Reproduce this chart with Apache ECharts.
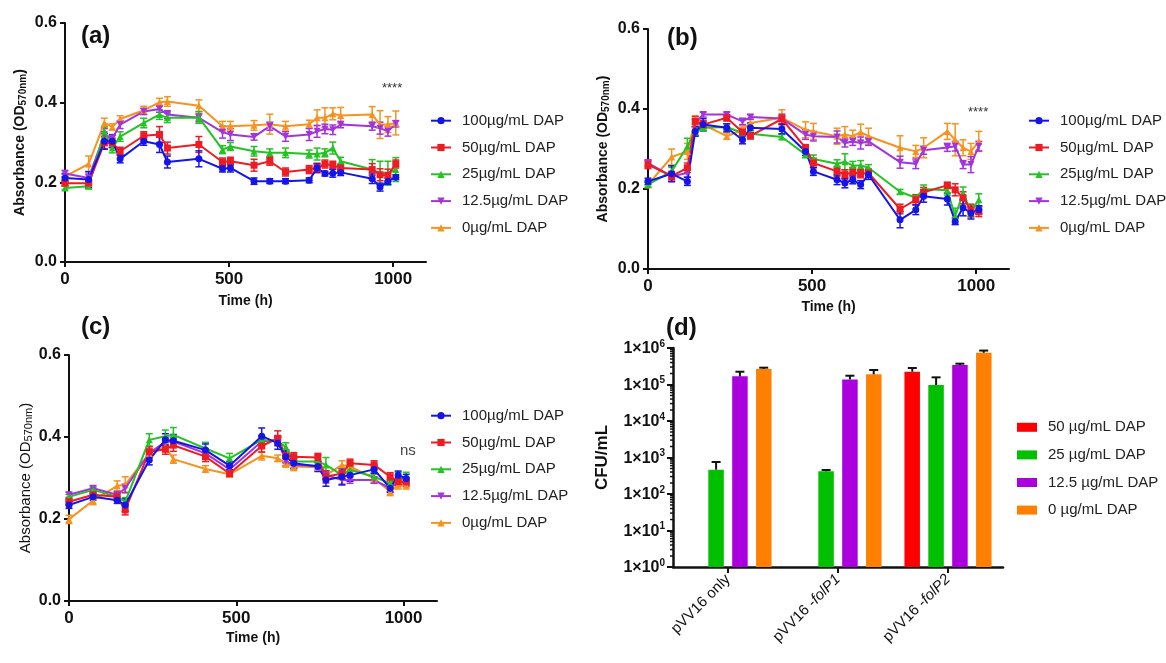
<!DOCTYPE html>
<html><head><meta charset="utf-8">
<script src="https://cdn.jsdelivr.net/npm/echarts@6/dist/echarts.min.js"></script>
<style>html,body{margin:0;padding:0;background:#fff}#c{width:1166px;height:663px}</style>
</head><body><div id="c"></div>
<script>
// ---------- DATA ----------
const seriesNames = ['100µg/mL DAP','50µg/mL DAP','25µg/mL DAP','12.5µg/mL DAP','0µg/mL DAP'];
const xTicks = [0, 500, 1000];
const yTicks = [0, 0.2, 0.4, 0.6];

// Panel (a)
const timesA = [0,72,120,144,168,240,288,312,408,480,504,576,624,672,744,768,792,816,840,936,960,984,1008];
const a100 = [0.211,0.207,0.303,0.303,0.259,0.303,0.295,0.251,0.259,0.234,0.236,0.203,0.203,0.203,0.205,0.236,0.222,0.223,0.225,0.209,0.188,0.203,0.213];
const a50  = [0.198,0.198,0.299,0.299,0.278,0.317,0.320,0.286,0.295,0.251,0.253,0.243,0.253,0.226,0.232,0.236,0.246,0.243,0.236,0.232,0.219,0.218,0.246];
const a25  = [0.186,0.190,0.328,0.286,0.315,0.349,0.370,0.362,0.363,0.282,0.290,0.278,0.274,0.274,0.271,0.271,0.274,0.286,0.253,0.232,0.223,0.223,0.232];
const a12  = [0.222,0.211,0.320,0.310,0.345,0.378,0.384,0.370,0.362,0.326,0.320,0.314,0.341,0.315,0.320,0.328,0.334,0.332,0.345,0.341,0.336,0.328,0.347];
const a0   = [0.215,0.246,0.349,0.339,0.359,0.381,0.401,0.403,0.392,0.341,0.341,0.343,0.346,0.341,0.346,0.362,0.362,0.372,0.368,0.370,0.345,0.345,0.349];
const a100e = [0.010,0.020,0.020,0.015,0.010,0.010,0.020,0.015,0.020,0.008,0.010,0.008,0.006,0.006,0.006,0.010,0.006,0.010,0.008,0.012,0.010,0.008,0.006];
const a50e  = [0.006,0.006,0.015,0.012,0.010,0.010,0.020,0.015,0.020,0.010,0.010,0.015,0.010,0.010,0.010,0.012,0.010,0.010,0.010,0.015,0.015,0.015,0.010];
const a25e  = [0.005,0.006,0.012,0.012,0.012,0.012,0.012,0.012,0.015,0.010,0.010,0.012,0.010,0.012,0.010,0.015,0.010,0.015,0.010,0.025,0.030,0.030,0.030];
const a12e  = [0.008,0.010,0.015,0.010,0.010,0.008,0.008,0.010,0.010,0.015,0.015,0.008,0.010,0.012,0.015,0.015,0.012,0.012,0.008,0.010,0.015,0.012,0.008];
const a0e   = [0.008,0.020,0.012,0.008,0.008,0.010,0.010,0.012,0.015,0.012,0.012,0.012,0.025,0.012,0.010,0.020,0.025,0.015,0.020,0.020,0.035,0.020,0.030];

// Panel (b)
const timesB = [0,72,120,144,168,240,288,312,408,480,504,576,600,624,648,672,768,816,840,912,936,960,984,1008];
const b100 = [0.219,0.238,0.219,0.344,0.361,0.353,0.323,0.353,0.350,0.294,0.244,0.223,0.215,0.223,0.211,0.236,0.123,0.148,0.182,0.175,0.119,0.153,0.140,0.148];
const b50  = [0.261,0.232,0.253,0.369,0.361,0.378,0.342,0.333,0.375,0.303,0.265,0.244,0.236,0.242,0.238,0.240,0.150,0.173,0.192,0.209,0.198,0.178,0.147,0.143];
const b25  = [0.211,0.244,0.307,0.344,0.353,0.355,0.340,0.338,0.330,0.286,0.275,0.263,0.268,0.259,0.259,0.253,0.193,0.178,0.200,0.197,0.132,0.190,0.144,0.173];
const b12  = [0.265,0.232,0.240,0.365,0.386,0.386,0.369,0.380,0.376,0.336,0.332,0.330,0.315,0.319,0.315,0.319,0.267,0.263,0.297,0.304,0.307,0.261,0.261,0.307];
const b0   = [0.211,0.280,0.294,0.373,0.361,0.332,0.348,0.365,0.378,0.348,0.344,0.332,0.336,0.332,0.342,0.332,0.303,0.294,0.303,0.344,0.323,0.303,0.294,0.319];
const b100e = [0.008,0.020,0.010,0.012,0.015,0.010,0.010,0.012,0.012,0.010,0.010,0.012,0.012,0.010,0.010,0.012,0.020,0.012,0.015,0.015,0.008,0.020,0.015,0.010];
const b50e  = [0.010,0.012,0.012,0.012,0.010,0.008,0.010,0.008,0.012,0.008,0.012,0.012,0.012,0.012,0.010,0.010,0.012,0.012,0.012,0.008,0.015,0.015,0.015,0.012];
const b25e  = [0.006,0.010,0.020,0.010,0.008,0.008,0.008,0.008,0.006,0.008,0.010,0.010,0.020,0.010,0.012,0.008,0.006,0.008,0.010,0.012,0.020,0.015,0.015,0.015];
const b12e  = [0.008,0.008,0.010,0.010,0.006,0.006,0.008,0.006,0.006,0.012,0.012,0.015,0.010,0.010,0.015,0.010,0.015,0.012,0.010,0.010,0.012,0.010,0.020,0.012];
const b0e   = [0.008,0.020,0.020,0.010,0.010,0.008,0.010,0.010,0.020,0.020,0.020,0.020,0.020,0.015,0.020,0.020,0.030,0.015,0.025,0.020,0.040,0.020,0.020,0.025];

// Panel (c)
const timesC = [0,72,144,168,240,288,312,408,480,576,624,648,672,744,768,816,840,912,960,984,1008];
const c100 = [0.234,0.254,0.246,0.234,0.344,0.393,0.391,0.368,0.330,0.402,0.385,0.352,0.336,0.328,0.295,0.303,0.307,0.321,0.275,0.307,0.299];
const c50  = [0.242,0.259,0.254,0.222,0.364,0.370,0.380,0.352,0.311,0.378,0.397,0.354,0.352,0.350,0.303,0.311,0.336,0.332,0.303,0.291,0.291];
const c25  = [0.254,0.271,0.254,0.242,0.393,0.402,0.405,0.372,0.348,0.393,0.389,0.376,0.340,0.340,0.332,0.307,0.320,0.303,0.287,0.299,0.299];
const c12  = [0.259,0.275,0.259,0.275,0.360,0.389,0.389,0.360,0.321,0.389,0.393,0.340,0.332,0.330,0.307,0.295,0.295,0.295,0.275,0.291,0.287];
const c0   = [0.199,0.245,0.281,0.283,0.360,0.376,0.346,0.322,0.309,0.354,0.348,0.336,0.328,0.326,0.307,0.332,0.328,0.299,0.267,0.283,0.283];
const c100e = [0.008,0.008,0.008,0.015,0.012,0.015,0.015,0.015,0.010,0.020,0.015,0.015,0.012,0.012,0.015,0.020,0.015,0.010,0.010,0.010,0.010];
const c50e  = [0.008,0.008,0.010,0.012,0.012,0.012,0.015,0.012,0.008,0.015,0.018,0.015,0.010,0.010,0.015,0.012,0.010,0.010,0.010,0.010,0.010];
const c25e  = [0.006,0.006,0.008,0.010,0.015,0.015,0.018,0.015,0.012,0.010,0.010,0.010,0.010,0.015,0.018,0.010,0.010,0.010,0.010,0.015,0.015];
const c12e  = [0.006,0.006,0.008,0.010,0.010,0.010,0.010,0.010,0.010,0.010,0.010,0.010,0.010,0.010,0.010,0.010,0.008,0.008,0.008,0.008,0.008];
const c0e   = [0.010,0.010,0.012,0.020,0.010,0.010,0.010,0.008,0.006,0.010,0.008,0.010,0.010,0.010,0.010,0.010,0.010,0.010,0.010,0.010,0.010];

// Panel (d)
const dCats = ['pVV16 only','pVV16 -folP1','pVV16 -folP2'];
const dNames = ['50 µg/mL DAP','25 µg/mL DAP','12.5 µg/mL DAP','0 µg/mL DAP'];
const d50  = [null, null, 224000];
const d25  = [464, 418, 97000];
const d12  = [167000, 138000, 342000];
const d0   = [266000, 190000, 740000];
const d50e = [null, null, 59000];
const d25e = [289, 37, 60000];
const d12e = [57000, 36000, 30000];
const d0e  = [23000, 60000, 110000];
const dYTicks = [1, 10, 100, 1000, 10000, 100000, 1000000];

// ---------- STYLE / BUILD ----------
const FONT = 'Liberation Sans, Arial, Helvetica, sans-serif';
const lineColors = ['#1515e8', '#ec1c24', '#22c322', '#a334dd', '#f7921e'];
const symbols = ['circle', 'rect', 'triangle', 'triangle', 'triangle'];
const symRot = [0, 0, 0, 180, 0];
const barColors = ['#ff0000', '#00c000', '#aa00dd', '#ff8000'];

const grids = [
  {left: 65, top: 23, width: 361, height: 239},
  {left: 648, top: 29, width: 361, height: 240},
  {left: 69, top: 355, width: 368, height: 246},
  {left: 673, top: 348, width: 330, height: 219}
];

function valueX(gi, nameGap) {
  return {
    type: 'value', gridIndex: gi, min: 0, max: 1100, interval: 500,
    name: 'Time (h)', nameLocation: 'middle', nameGap: nameGap,
    nameTextStyle: {fontFamily: FONT, fontSize: 14, fontWeight: 'bold', color: '#111'},
    axisLine: {show: true, lineStyle: {color: '#111', width: 2}},
    axisTick: {show: true, length: 5, lineStyle: {color: '#111', width: 2}, customValues: xTicks},
    axisLabel: {fontFamily: FONT, fontSize: 17, fontWeight: 'bold', color: '#111', margin: 9, customValues: xTicks,
      formatter: v => String(Math.round(v))},
    splitLine: {show: false}
  };
}
function valueY(gi, nameGap, boldName) {
  return {
    type: 'value', gridIndex: gi, min: 0, max: 0.6, interval: 0.2,
    name: 'Absorbance (OD{sub|570nm})', nameLocation: 'middle', nameGap: nameGap, nameRotate: 90,
    nameTextStyle: {fontFamily: FONT, fontSize: boldName ? 14 : 15, fontWeight: boldName ? 'bold' : 'normal', color: '#111',
      rich: {sub: {fontFamily: FONT, fontSize: boldName ? 10 : 11, fontWeight: boldName ? 'bold' : 'normal', color: '#111', verticalAlign: 'bottom', padding: [6, 0, 0, 0]}}},
    axisLine: {show: true, lineStyle: {color: '#111', width: 2}},
    axisTick: {show: true, length: 5, lineStyle: {color: '#111', width: 2}, customValues: yTicks},
    axisLabel: {fontFamily: FONT, fontSize: 16, fontWeight: 'bold', color: '#111', margin: 8, customValues: yTicks, formatter: v => Number(v).toFixed(1)},
    splitLine: {show: false}
  };
}

function lineErr(color) {
  return function (params, api) {
    const x = api.value(0), y = api.value(1), e = api.value(2);
    const p1 = api.coord([x, y + e]), p2 = api.coord([x, y - e]);
    const w = 3.5;
    const st = {stroke: color, lineWidth: 1.5};
    return {type: 'group', children: [
      {type: 'line', shape: {x1: p1[0], y1: p1[1], x2: p2[0], y2: p2[1]}, style: st},
      {type: 'line', shape: {x1: p1[0] - w, y1: p1[1], x2: p1[0] + w, y2: p1[1]}, style: st},
      {type: 'line', shape: {x1: p2[0] - w, y1: p2[1], x2: p2[0] + w, y2: p2[1]}, style: st}
    ]};
  };
}

const series = [];
function addLinePanel(gi, times, vals, errs) {
  for (let i = vals.length - 1; i >= 0; i--) {
    series.push({
      type: 'custom', name: 'err' + gi + '_' + i, xAxisIndex: gi, yAxisIndex: gi, silent: true, clip: false,
      renderItem: lineErr(lineColors[i]),
      data: times.map((t, j) => [t, vals[i][j], errs[i][j]])
    });
    series.push({
      type: 'line', name: seriesNames[i], xAxisIndex: gi, yAxisIndex: gi,
      data: times.map((t, j) => [t, vals[i][j]]),
      symbol: symbols[i], symbolSize: 7, symbolRotate: symRot[i], showSymbol: true,
      itemStyle: {color: lineColors[i]}, lineStyle: {color: lineColors[i], width: 2},
      animation: false
    });
  }
}
addLinePanel(0, timesA, [a100, a50, a25, a12, a0], [a100e, a50e, a25e, a12e, a0e]);
addLinePanel(1, timesB, [b100, b50, b25, b12, b0], [b100e, b50e, b25e, b12e, b0e]);
addLinePanel(2, timesC, [c100, c50, c25, c12, c0], [c100e, c50e, c25e, c12e, c0e]);

// Panel d bars
const dVals = [d50, d25, d12, d0];
const dErrs = [d50e, d25e, d12e, d0e];
const BAR_W = 15.5, BAR_GAP = 8.3;
dVals.forEach((vals, i) => {
  series.push({
    type: 'bar', name: dNames[i], xAxisIndex: 3, yAxisIndex: 3,
    data: vals.map(v => v == null ? '-' : v),
    barWidth: BAR_W, barGap: (BAR_GAP / BAR_W * 100).toFixed(0) + '%',
    itemStyle: {color: barColors[i]}, animation: false
  });
});
dVals.forEach((vals, i) => {
  const offset = (i - 1.5) * (BAR_W + BAR_GAP);
  const data = [];
  vals.forEach((v, j) => { if (v != null) data.push([j, v, dErrs[i][j]]); });
  series.push({
    type: 'custom', name: 'derr' + i, xAxisIndex: 3, yAxisIndex: 3, silent: true, clip: false, z: 3,
    renderItem: function (params, api) {
      const c = api.value(0), v = api.value(1), e = api.value(2);
      const p1 = api.coord([c, v]), p2 = api.coord([c, v + e]);
      const x = p1[0] + offset, w = 4.5;
      const st = {stroke: '#111', lineWidth: 2};
      return {type: 'group', children: [
        {type: 'line', shape: {x1: x, y1: p1[1], x2: x, y2: p2[1]}, style: st},
        {type: 'line', shape: {x1: x - w, y1: p2[1], x2: x + w, y2: p2[1]}, style: st}
      ]};
    },
    data: data
  });
});
// log-axis minor ticks for panel d
const minorVals = [];
for (let k = 0; k < 6; k++) for (let m = 2; m <= 9; m++) minorVals.push([0, m * Math.pow(10, k)]);
series.push({
  type: 'custom', name: 'minorTicks', xAxisIndex: 3, yAxisIndex: 3, silent: true, clip: false,
  renderItem: function (params, api) {
    const p = api.coord([0, api.value(1)]);
    const x0 = params.coordSys.x;
    return {type: 'line', shape: {x1: x0 - 3, y1: p[1], x2: x0, y2: p[1]}, style: {stroke: '#111', lineWidth: 1.5}};
  },
  data: minorVals
});

function lineLegend(left, top) {
  return {
    data: seriesNames, orient: 'vertical', left: left, top: top, itemWidth: 20, itemHeight: 9, itemGap: 8.8,
    selectedMode: false, padding: 0,
    textStyle: {fontFamily: FONT, fontSize: 15, color: '#222', lineHeight: 18, padding: [0, 0, 0, 6]}
  };
}

const option = {
  backgroundColor: '#fff',
  animation: false,
  grid: grids,
  title: [
    {text: '(a)', left: 81, top: 24, padding: 0, textStyle: {fontFamily: FONT, fontSize: 24, fontWeight: 'bold', color: '#111'}},
    {text: '(b)', left: 667, top: 26, padding: 0, textStyle: {fontFamily: FONT, fontSize: 24, fontWeight: 'bold', color: '#111'}},
    {text: '(c)', left: 81, top: 315, padding: 0, textStyle: {fontFamily: FONT, fontSize: 24, fontWeight: 'bold', color: '#111'}},
    {text: '(d)', left: 666, top: 316, padding: 0, textStyle: {fontFamily: FONT, fontSize: 24, fontWeight: 'bold', color: '#111'}},
    {text: '****', left: 382, top: 82, padding: 0, textStyle: {fontFamily: FONT, fontSize: 13, fontWeight: 'normal', color: '#333'}},
    {text: '****', left: 968, top: 106, padding: 0, textStyle: {fontFamily: FONT, fontSize: 13, fontWeight: 'normal', color: '#333'}},
    {text: 'ns', left: 400, top: 443, padding: 0, textStyle: {fontFamily: FONT, fontSize: 15, fontWeight: 'normal', color: '#444'}}
  ],
  legend: [
    lineLegend(430, 111.7),
    lineLegend(1028, 111.7),
    lineLegend(430, 406.7),
    {
      data: dNames, orient: 'vertical', left: 1017, top: 418.3, itemWidth: 20, itemHeight: 9, itemGap: 9.6, icon: 'rect',
      selectedMode: false, padding: 0,
      textStyle: {fontFamily: FONT, fontSize: 15, color: '#222', lineHeight: 18, padding: [0, 0, 0, 6]}
    }
  ],
  xAxis: [
    valueX(0, 32), valueX(1, 31), valueX(2, 30),
    {
      type: 'category', gridIndex: 3, data: dCats,
      axisLine: {show: true, lineStyle: {color: '#111', width: 2.5}},
      axisTick: {show: true, alignWithLabel: true, length: 6, lineStyle: {color: '#111', width: 2}},
      axisLabel: {
        interval: 0, rotate: 45, margin: 10, fontFamily: FONT, fontSize: 15, color: '#111',
        formatter: v => v.replace(/(folP\d)/, '{i|$1}'),
        rich: {i: {fontFamily: FONT, fontSize: 15, fontStyle: 'italic', color: '#111'}}
      }
    }
  ],
  yAxis: [
    valueY(0, 37, true), valueY(1, 37, true), valueY(2, 35, false),
    {
      type: 'log', gridIndex: 3, min: 1, max: 1000000, logBase: 10, splitNumber: 6,
      name: 'CFU/mL', nameLocation: 'middle', nameGap: 62, nameRotate: 90,
      nameTextStyle: {fontFamily: FONT, fontSize: 17, fontWeight: 'bold', color: '#111'},
      axisLine: {show: true, lineStyle: {color: '#111', width: 2.5}},
      axisTick: {show: true, length: 6, lineStyle: {color: '#111', width: 2}, customValues: dYTicks},
      axisLabel: {
        margin: 8, customValues: dYTicks,
        formatter: v => '{b|1×10}{s|' + Math.round(Math.log10(v)) + '}',
        rich: {
          b: {fontFamily: FONT, fontSize: 16, fontWeight: 'bold', color: '#111', verticalAlign: 'bottom', lineHeight: 18},
          s: {fontFamily: FONT, fontSize: 10, fontWeight: 'bold', color: '#111', verticalAlign: 'top', lineHeight: 18}
        }
      },
      splitLine: {show: false}
    }
  ],
  series: series
};

const chart = echarts.init(document.getElementById('c'), null, {renderer: 'canvas'});
chart.setOption(option);
</script>
</body></html>
